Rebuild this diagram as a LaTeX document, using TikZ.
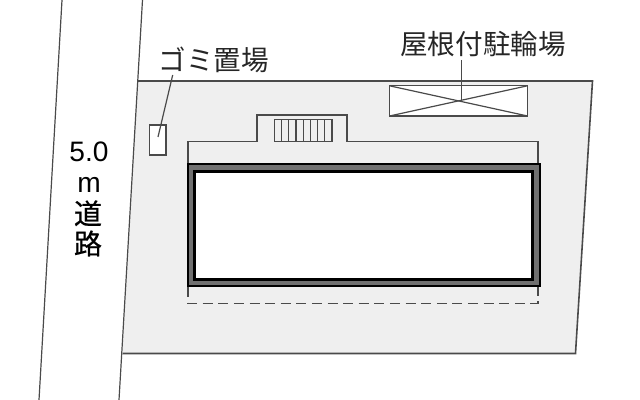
\documentclass[tikz,border=0pt]{standalone}
\usepackage{fontspec}
\setmainfont{Noto Sans CJK JP}
\setsansfont{Liberation Sans}
\newfontfamily\roadfont[FakeBold=0.6]{Noto Sans CJK JP}
\definecolor{lotgray}{HTML}{EFEFEF}
\definecolor{wallgray}{HTML}{707070}
\definecolor{linegray}{HTML}{4A4A4A}
\tikzset{
    planline/.style={draw=linegray, line width=0.03cm},
    lotline/.style={draw=linegray, line width=0.04cm},
    planlabel/.style={inner sep=0pt, text=black!85, font=\fontsize{19.6pt}{19.6pt}\selectfont},
    roadlabel/.style={inner sep=0pt, text=black, font=\roadfont\fontsize{20pt}{20pt}\selectfont},
    roadnumber/.style={inner sep=0pt, text=black, font=\sffamily\fontsize{20pt}{20pt}\selectfont},
}
\begin{document}
\begin{tikzpicture}[x=0.025cm, y=-0.025cm]
            \useasboundingbox (0,0) rectangle (640,400);%

            % Drawing the lot
            \fill [lotgray] (137.5,81.000000) -- (592.5,81.000000) -- (575.5,353.500000) -- (122.5,353.500000) -- cycle;%
            \draw [lotline] (137.5,81.000000) -- (592.5,81.000000) -- (575.5,353.500000) -- (122.5,353.500000);%

            % Drawing road edges
            \draw [planline] (62.000000,0.000000) -- (39.000000,400.000000);%
            \draw [planline] (142.500000,0.000000) -- (119.000000,400.000000);%

            % Drawing garbage box
            \draw [planline, fill=white] (149.500000,125.000000) rectangle (166.000000,155.000000);%
            \coordinate (garbageend) at (158.000000,137.000000);%

            % Drawing porch outline
            \draw [planline] (188.000000,164.000000) -- (188.000000,141.500000) -- (257.000000,141.500000) -- (257.000000,115.000000) -- (347.000000,115.000000) -- (347.000000,141.500000) -- (538.000000,141.500000) -- (538.000000,164.000000);%

            % Drawing stairs
            \draw [planline] (274.500000,119.500000) rectangle (332.000000,141.500000);%
            \foreach \stepx in {1,...,7}
                \draw [planline] (274.5+7.1875*\stepx,119.500000) -- (274.5+7.1875*\stepx,141.500000);%

            % Drawing bicycle parking
            \draw [planline, fill=white] (389.500000,85.800000) rectangle (527.500000,116.000000);%
            \draw [planline] (389.500000,85.800000) -- (527.500000,116.000000);%
            \draw [planline] (389.500000,116.000000) -- (527.500000,85.800000);%
            \coordinate (bicycleend) at (461.300000,101.000000);%

            % Drawing building
            \draw [line width=0.05cm, fill=wallgray] (187.500000,164.500000) rectangle (539.500000,286.000000);%
            \draw [line width=0.075cm, fill=white] (194.500000,171.500000) rectangle (532.500000,280.000000);%

            % Drawing balcony
            \draw [planline, line width=0.04cm, dash pattern=on 0.25cm off 0.14cm] (188.000000,287.000000) -- (188.000000,303.500000) -- (538.000000,303.500000) -- (538.000000,287.000000);%

            % Labels and their leaders
            \node (garbagelabel) [planlabel] at (214.000000,60.000000) {ゴミ置場};%
            \node (bicyclelabel) [planlabel] at (483.000000,44.000000) {屋根付駐輪場};%
            \coordinate (garbagestart) at (172.700000,75.000000);%
            \coordinate (bicyclestart) at (461.300000,60.000000);%
            \draw [planline] (garbagestart) -- (garbageend);%
            \draw [planline] (bicyclestart) -- (bicycleend);%

            % Road labels
            \node (roadwidth) [roadnumber] at (89.000000,152.000000) {5.0};%
            \node (roadunit) [roadnumber] at (89.000000,185.000000) {m};%
            \node (roadfirst) [roadlabel] at (88.000000,213.300000) {道};%
            \node (roadsecond) [roadlabel] at (88.000000,243.500000) {路};%
\end{tikzpicture}
\end{document}
